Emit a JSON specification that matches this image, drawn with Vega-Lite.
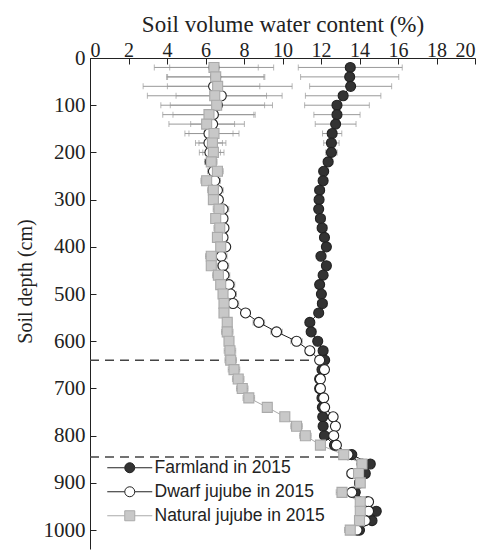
{
  "$schema": "https://vega.github.io/schema/vega-lite/v6.json",
  "width": 385,
  "height": 491,
  "autosize": {"type": "none"},
  "padding": {"left": 90, "top": 58, "right": 15, "bottom": 2},
  "background": "white",
  "datasets": {
    "profiles": [
      {"series": "Farmland in 2015", "depth": 20, "value": 13.52, "sd": 2.7},
      {"series": "Farmland in 2015", "depth": 40, "value": 13.49, "sd": 2.55},
      {"series": "Farmland in 2015", "depth": 60, "value": 13.54, "sd": 2.13},
      {"series": "Farmland in 2015", "depth": 80, "value": 13.15, "sd": 1.96},
      {"series": "Farmland in 2015", "depth": 100, "value": 12.83, "sd": 1.68},
      {"series": "Farmland in 2015", "depth": 120, "value": 12.83, "sd": 1.2},
      {"series": "Farmland in 2015", "depth": 140, "value": 12.76, "sd": 1.06},
      {"series": "Farmland in 2015", "depth": 160, "value": 12.58, "sd": 0.5},
      {"series": "Farmland in 2015", "depth": 180, "value": 12.54, "sd": 0.4},
      {"series": "Farmland in 2015", "depth": 200, "value": 12.54, "sd": 0.3},
      {"series": "Farmland in 2015", "depth": 220, "value": 12.37, "sd": 0.25},
      {"series": "Farmland in 2015", "depth": 240, "value": 12.14, "sd": 0.25},
      {"series": "Farmland in 2015", "depth": 260, "value": 12.11, "sd": 0.2},
      {"series": "Farmland in 2015", "depth": 280, "value": 11.93, "sd": 0.25},
      {"series": "Farmland in 2015", "depth": 300, "value": 11.9, "sd": 0.2},
      {"series": "Farmland in 2015", "depth": 320, "value": 11.88, "sd": 0.2},
      {"series": "Farmland in 2015", "depth": 340, "value": 11.97, "sd": 0.25},
      {"series": "Farmland in 2015", "depth": 360, "value": 12.06, "sd": 0.25},
      {"series": "Farmland in 2015", "depth": 380, "value": 12.18, "sd": 0.2},
      {"series": "Farmland in 2015", "depth": 400, "value": 12.28, "sd": 0.15},
      {"series": "Farmland in 2015", "depth": 420, "value": 12.0, "sd": 0.25},
      {"series": "Farmland in 2015", "depth": 440, "value": 12.28, "sd": 0.2},
      {"series": "Farmland in 2015", "depth": 460, "value": 12.11, "sd": 0.2},
      {"series": "Farmland in 2015", "depth": 480, "value": 11.93, "sd": 0.15},
      {"series": "Farmland in 2015", "depth": 500, "value": 12.02, "sd": 0.2},
      {"series": "Farmland in 2015", "depth": 520, "value": 12.07, "sd": 0.25},
      {"series": "Farmland in 2015", "depth": 540, "value": 11.88, "sd": 0.2},
      {"series": "Farmland in 2015", "depth": 560, "value": 11.42, "sd": 0.15},
      {"series": "Farmland in 2015", "depth": 580, "value": 11.49, "sd": 0.25},
      {"series": "Farmland in 2015", "depth": 600, "value": 11.83, "sd": 0.2},
      {"series": "Farmland in 2015", "depth": 620, "value": 12.11, "sd": 0.2},
      {"series": "Farmland in 2015", "depth": 640, "value": 12.19, "sd": 0.2},
      {"series": "Farmland in 2015", "depth": 660, "value": 12.05, "sd": 0.2},
      {"series": "Farmland in 2015", "depth": 680, "value": 11.93, "sd": 0.2},
      {"series": "Farmland in 2015", "depth": 700, "value": 11.93, "sd": 0.2},
      {"series": "Farmland in 2015", "depth": 720, "value": 12.05, "sd": 0.2},
      {"series": "Farmland in 2015", "depth": 740, "value": 12.07, "sd": 0.2},
      {"series": "Farmland in 2015", "depth": 760, "value": 12.09, "sd": 0.2},
      {"series": "Farmland in 2015", "depth": 780, "value": 12.11, "sd": 0.2},
      {"series": "Farmland in 2015", "depth": 800, "value": 12.18, "sd": 0.2},
      {"series": "Farmland in 2015", "depth": 820, "value": 12.7, "sd": 0.2},
      {"series": "Farmland in 2015", "depth": 840, "value": 13.6, "sd": 0.2},
      {"series": "Farmland in 2015", "depth": 860, "value": 14.56, "sd": 0.2},
      {"series": "Farmland in 2015", "depth": 880, "value": 14.3, "sd": 0.2},
      {"series": "Farmland in 2015", "depth": 900, "value": 14.0, "sd": 0.2},
      {"series": "Farmland in 2015", "depth": 920, "value": 13.78, "sd": 0.2},
      {"series": "Farmland in 2015", "depth": 940, "value": 14.4, "sd": 0.2},
      {"series": "Farmland in 2015", "depth": 960, "value": 14.87, "sd": 0.2},
      {"series": "Farmland in 2015", "depth": 980, "value": 14.65, "sd": 0.2},
      {"series": "Farmland in 2015", "depth": 1000, "value": 14.0, "sd": 0.2},
      {"series": "Dwarf jujube in 2015", "depth": 20, "value": 6.44, "sd": 2.3},
      {"series": "Dwarf jujube in 2015", "depth": 40, "value": 6.53, "sd": 2.5},
      {"series": "Dwarf jujube in 2015", "depth": 60, "value": 6.42, "sd": 2.4},
      {"series": "Dwarf jujube in 2015", "depth": 80, "value": 6.82, "sd": 2.35},
      {"series": "Dwarf jujube in 2015", "depth": 100, "value": 6.62, "sd": 2.45},
      {"series": "Dwarf jujube in 2015", "depth": 120, "value": 6.41, "sd": 2.1},
      {"series": "Dwarf jujube in 2015", "depth": 140, "value": 6.37, "sd": 1.14},
      {"series": "Dwarf jujube in 2015", "depth": 160, "value": 6.18, "sd": 1.25},
      {"series": "Dwarf jujube in 2015", "depth": 180, "value": 6.18, "sd": 0.7},
      {"series": "Dwarf jujube in 2015", "depth": 200, "value": 6.23, "sd": 0.55},
      {"series": "Dwarf jujube in 2015", "depth": 220, "value": 6.25, "sd": 0.3},
      {"series": "Dwarf jujube in 2015", "depth": 240, "value": 6.41, "sd": 0.3},
      {"series": "Dwarf jujube in 2015", "depth": 260, "value": 6.48, "sd": 0.3},
      {"series": "Dwarf jujube in 2015", "depth": 280, "value": 6.62, "sd": 0.3},
      {"series": "Dwarf jujube in 2015", "depth": 300, "value": 6.67, "sd": 0.2},
      {"series": "Dwarf jujube in 2015", "depth": 320, "value": 6.91, "sd": 0.3},
      {"series": "Dwarf jujube in 2015", "depth": 340, "value": 6.91, "sd": 0.2},
      {"series": "Dwarf jujube in 2015", "depth": 360, "value": 6.96, "sd": 0.2},
      {"series": "Dwarf jujube in 2015", "depth": 380, "value": 6.91, "sd": 0.2},
      {"series": "Dwarf jujube in 2015", "depth": 400, "value": 7.05, "sd": 0.2},
      {"series": "Dwarf jujube in 2015", "depth": 420, "value": 6.82, "sd": 0.3},
      {"series": "Dwarf jujube in 2015", "depth": 440, "value": 6.91, "sd": 0.3},
      {"series": "Dwarf jujube in 2015", "depth": 460, "value": 6.96, "sd": 0.3},
      {"series": "Dwarf jujube in 2015", "depth": 480, "value": 7.22, "sd": 0.3},
      {"series": "Dwarf jujube in 2015", "depth": 500, "value": 7.31, "sd": 0.3},
      {"series": "Dwarf jujube in 2015", "depth": 520, "value": 7.43, "sd": 0.3},
      {"series": "Dwarf jujube in 2015", "depth": 540, "value": 8.08, "sd": 0.2},
      {"series": "Dwarf jujube in 2015", "depth": 560, "value": 8.77, "sd": 0.3},
      {"series": "Dwarf jujube in 2015", "depth": 580, "value": 9.69, "sd": 0.3},
      {"series": "Dwarf jujube in 2015", "depth": 600, "value": 10.73, "sd": 0.3},
      {"series": "Dwarf jujube in 2015", "depth": 620, "value": 11.42, "sd": 0.2},
      {"series": "Dwarf jujube in 2015", "depth": 640, "value": 11.93, "sd": 0.2},
      {"series": "Dwarf jujube in 2015", "depth": 660, "value": 12.18, "sd": 0.2},
      {"series": "Dwarf jujube in 2015", "depth": 680, "value": 11.97, "sd": 0.2},
      {"series": "Dwarf jujube in 2015", "depth": 700, "value": 11.97, "sd": 0.2},
      {"series": "Dwarf jujube in 2015", "depth": 720, "value": 12.14, "sd": 0.2},
      {"series": "Dwarf jujube in 2015", "depth": 740, "value": 12.19, "sd": 0.2},
      {"series": "Dwarf jujube in 2015", "depth": 760, "value": 12.63, "sd": 0.2},
      {"series": "Dwarf jujube in 2015", "depth": 780, "value": 12.75, "sd": 0.2},
      {"series": "Dwarf jujube in 2015", "depth": 800, "value": 12.66, "sd": 0.2},
      {"series": "Dwarf jujube in 2015", "depth": 820, "value": 12.8, "sd": 0.2},
      {"series": "Dwarf jujube in 2015", "depth": 840, "value": 13.4, "sd": 0.2},
      {"series": "Dwarf jujube in 2015", "depth": 860, "value": 14.13, "sd": 0.2},
      {"series": "Dwarf jujube in 2015", "depth": 880, "value": 13.6, "sd": 0.25},
      {"series": "Dwarf jujube in 2015", "depth": 900, "value": 14.0, "sd": 0.2},
      {"series": "Dwarf jujube in 2015", "depth": 920, "value": 13.6, "sd": 0.2},
      {"series": "Dwarf jujube in 2015", "depth": 940, "value": 14.47, "sd": 0.2},
      {"series": "Dwarf jujube in 2015", "depth": 960, "value": 14.47, "sd": 0.2},
      {"series": "Dwarf jujube in 2015", "depth": 980, "value": 14.3, "sd": 0.2},
      {"series": "Dwarf jujube in 2015", "depth": 1000, "value": 13.87, "sd": 0.2},
      {"series": "Natural jujube in 2015", "depth": 20, "value": 6.44, "sd": 3.1},
      {"series": "Natural jujube in 2015", "depth": 40, "value": 6.53, "sd": 2.55},
      {"series": "Natural jujube in 2015", "depth": 60, "value": 6.63, "sd": 3.87},
      {"series": "Natural jujube in 2015", "depth": 80, "value": 6.48, "sd": 3.5},
      {"series": "Natural jujube in 2015", "depth": 100, "value": 6.58, "sd": 2.9},
      {"series": "Natural jujube in 2015", "depth": 120, "value": 6.18, "sd": 2.4},
      {"series": "Natural jujube in 2015", "depth": 140, "value": 6.06, "sd": 1.96},
      {"series": "Natural jujube in 2015", "depth": 160, "value": 6.44, "sd": 1.3},
      {"series": "Natural jujube in 2015", "depth": 180, "value": 6.36, "sd": 0.7},
      {"series": "Natural jujube in 2015", "depth": 200, "value": 6.41, "sd": 0.55},
      {"series": "Natural jujube in 2015", "depth": 220, "value": 6.3, "sd": 0.3},
      {"series": "Natural jujube in 2015", "depth": 240, "value": 6.62, "sd": 0.3},
      {"series": "Natural jujube in 2015", "depth": 260, "value": 6.06, "sd": 0.3},
      {"series": "Natural jujube in 2015", "depth": 280, "value": 6.41, "sd": 0.3},
      {"series": "Natural jujube in 2015", "depth": 300, "value": 6.41, "sd": 0.2},
      {"series": "Natural jujube in 2015", "depth": 320, "value": 6.7, "sd": 0.3},
      {"series": "Natural jujube in 2015", "depth": 340, "value": 6.53, "sd": 0.2},
      {"series": "Natural jujube in 2015", "depth": 360, "value": 6.74, "sd": 0.3},
      {"series": "Natural jujube in 2015", "depth": 380, "value": 6.62, "sd": 0.2},
      {"series": "Natural jujube in 2015", "depth": 400, "value": 6.79, "sd": 0.2},
      {"series": "Natural jujube in 2015", "depth": 420, "value": 6.3, "sd": 0.3},
      {"series": "Natural jujube in 2015", "depth": 440, "value": 6.3, "sd": 0.2},
      {"series": "Natural jujube in 2015", "depth": 460, "value": 6.67, "sd": 0.3},
      {"series": "Natural jujube in 2015", "depth": 480, "value": 6.79, "sd": 0.2},
      {"series": "Natural jujube in 2015", "depth": 500, "value": 6.91, "sd": 0.2},
      {"series": "Natural jujube in 2015", "depth": 520, "value": 6.96, "sd": 0.2},
      {"series": "Natural jujube in 2015", "depth": 540, "value": 6.96, "sd": 0.2},
      {"series": "Natural jujube in 2015", "depth": 560, "value": 7.13, "sd": 0.2},
      {"series": "Natural jujube in 2015", "depth": 580, "value": 7.13, "sd": 0.3},
      {"series": "Natural jujube in 2015", "depth": 600, "value": 7.22, "sd": 0.2},
      {"series": "Natural jujube in 2015", "depth": 620, "value": 7.27, "sd": 0.3},
      {"series": "Natural jujube in 2015", "depth": 640, "value": 7.31, "sd": 0.3},
      {"series": "Natural jujube in 2015", "depth": 660, "value": 7.48, "sd": 0.3},
      {"series": "Natural jujube in 2015", "depth": 680, "value": 7.7, "sd": 0.3},
      {"series": "Natural jujube in 2015", "depth": 700, "value": 7.91, "sd": 0.3},
      {"series": "Natural jujube in 2015", "depth": 720, "value": 8.25, "sd": 0.3},
      {"series": "Natural jujube in 2015", "depth": 740, "value": 9.21, "sd": 0.2},
      {"series": "Natural jujube in 2015", "depth": 760, "value": 10.12, "sd": 0.2},
      {"series": "Natural jujube in 2015", "depth": 780, "value": 10.73, "sd": 0.3},
      {"series": "Natural jujube in 2015", "depth": 800, "value": 11.19, "sd": 0.3},
      {"series": "Natural jujube in 2015", "depth": 820, "value": 11.97, "sd": 0.2},
      {"series": "Natural jujube in 2015", "depth": 840, "value": 13.18, "sd": 0.2},
      {"series": "Natural jujube in 2015", "depth": 860, "value": 14.13, "sd": 0.2},
      {"series": "Natural jujube in 2015", "depth": 880, "value": 13.95, "sd": 0.2},
      {"series": "Natural jujube in 2015", "depth": 900, "value": 14.04, "sd": 0.2},
      {"series": "Natural jujube in 2015", "depth": 920, "value": 13.09, "sd": 0.3},
      {"series": "Natural jujube in 2015", "depth": 940, "value": 14.04, "sd": 0.2},
      {"series": "Natural jujube in 2015", "depth": 960, "value": 14.04, "sd": 0.2},
      {"series": "Natural jujube in 2015", "depth": 980, "value": 14.0, "sd": 0.2},
      {"series": "Natural jujube in 2015", "depth": 1000, "value": 13.52, "sd": 0.3}
    ],
    "boundaries": [
      {"depth": 640, "start": 0, "end": 11.9},
      {"depth": 845, "start": 0, "end": 13.0}
    ]
  },
  "config": {
    "font": "Liberation Serif",
    "view": {"stroke": null},
    "axis": {
      "grid": false,
      "domainColor": "#222",
      "tickColor": "#222",
      "labelColor": "#222",
      "titleColor": "#222",
      "titleFontWeight": "normal"
    }
  },
  "layer": [
    {
      "data": {"values": []},
      "mark": {"type": "point", "filled": false, "size": 100, "opacity": 1},
      "encoding": {
        "fill": {
          "field": "series", "type": "nominal",
          "scale": {"domain": ["Farmland in 2015", "Dwarf jujube in 2015", "Natural jujube in 2015"], "range": ["#333333", "#ffffff", "#c8c8c8"]},
          "legend": {
            "title": null,
            "orient": "none",
            "legendX": 31,
            "legendY": 401,
            "padding": 0,
            "labelFont": "Liberation Sans",
            "labelFontSize": 17.5,
            "labelColor": "#222",
            "labelLimit": 400,
            "labelOffset": 16,
            "rowPadding": 5,
            "symbolSize": 100,
            "symbolOpacity": 1,
            "symbolStrokeWidth": 1
          }
        },
        "stroke": {
          "field": "series", "type": "nominal",
          "scale": {"domain": ["Farmland in 2015", "Dwarf jujube in 2015", "Natural jujube in 2015"], "range": ["#222222", "#222222", "#aaaaaa"]}
        },
        "shape": {
          "field": "series", "type": "nominal",
          "scale": {"domain": ["Farmland in 2015", "Dwarf jujube in 2015", "Natural jujube in 2015"], "range": ["M-4.5,0L-1,0M1,0L4.5,0M-1,0A1,1,0,1,0,1,0A1,1,0,1,0,-1,0Z", "M-4.5,0L-1,0M1,0L4.5,0M-1,0A1,1,0,1,0,1,0A1,1,0,1,0,-1,0Z", "M-4.5,0L-1,0M1,0L4.5,0M-1,-1L1,-1L1,1L-1,1Z"]}
        }
      }
    },
    {
      "data": {"name": "boundaries"},
      "mark": {"type": "rule", "color": "#444", "strokeWidth": 1.5, "strokeDash": [9, 6]},
      "encoding": {
        "y": {
          "field": "depth", "type": "quantitative",
          "scale": {"domain": [0, 1040], "reverse": true, "nice": false},
          "axis": {"values": [0, 100, 200, 300, 400, 500, 600, 700, 800, 900, 1000], "format": "d", "title": "Soil depth (cm)", "labelFont": "Liberation Serif", "titleFont": "Liberation Serif", "labelFontSize": 21, "titleFontSize": 20, "labelOverlap": false, "tickSize": -6, "labelPadding": 11, "titlePadding": 8, "titleY": 223}
        },
        "x": {
          "field": "start", "type": "quantitative",
          "scale": {"domain": [0, 20], "nice": false},
          "axis": {"orient": "top", "values": [0, 2, 4, 6, 8, 10, 12, 14, 16, 18, 20], "title": "Soil volume water content (%)", "labelFont": "Liberation Serif", "titleFont": "Liberation Serif", "labelFontSize": 20, "titleFontSize": 23, "labelOverlap": false, "labelBound": false, "tickSize": -6, "labelPadding": 4, "titlePadding": 4}
        },
        "x2": {"field": "end"}
      }
    },
    {
      "data": {"name": "profiles"},
      "mark": {"type": "errorbar", "color": "#999", "ticks": {"size": 6, "color": "#999"}, "rule": {"strokeWidth": 1}},
      "encoding": {
        "y": {
          "field": "depth", "type": "quantitative",
          "scale": {"domain": [0, 1040], "reverse": true, "nice": false},
          "axis": {"values": [0, 100, 200, 300, 400, 500, 600, 700, 800, 900, 1000], "format": "d", "title": "Soil depth (cm)", "labelFont": "Liberation Serif", "titleFont": "Liberation Serif", "labelFontSize": 21, "titleFontSize": 20, "labelOverlap": false, "tickSize": -6, "labelPadding": 11, "titlePadding": 8, "titleY": 223}
        },
        "x": {
          "field": "value", "type": "quantitative",
          "scale": {"domain": [0, 20], "nice": false},
          "axis": {"orient": "top", "values": [0, 2, 4, 6, 8, 10, 12, 14, 16, 18, 20], "title": "Soil volume water content (%)", "labelFont": "Liberation Serif", "titleFont": "Liberation Serif", "labelFontSize": 20, "titleFontSize": 23, "labelOverlap": false, "labelBound": false, "tickSize": -6, "labelPadding": 4, "titlePadding": 4}
        },
        "xError": {"field": "sd"},
        "detail": {"field": "series"}
      }
    },
    {
      "data": {"name": "profiles"},
      "mark": {"type": "line", "strokeWidth": 1},
      "encoding": {
        "y": {
          "field": "depth", "type": "quantitative",
          "scale": {"domain": [0, 1040], "reverse": true, "nice": false},
          "axis": {"values": [0, 100, 200, 300, 400, 500, 600, 700, 800, 900, 1000], "format": "d", "title": "Soil depth (cm)", "labelFont": "Liberation Serif", "titleFont": "Liberation Serif", "labelFontSize": 21, "titleFontSize": 20, "labelOverlap": false, "tickSize": -6, "labelPadding": 11, "titlePadding": 8, "titleY": 223}
        },
        "x": {
          "field": "value", "type": "quantitative",
          "scale": {"domain": [0, 20], "nice": false},
          "axis": {"orient": "top", "values": [0, 2, 4, 6, 8, 10, 12, 14, 16, 18, 20], "title": "Soil volume water content (%)", "labelFont": "Liberation Serif", "titleFont": "Liberation Serif", "labelFontSize": 20, "titleFontSize": 23, "labelOverlap": false, "labelBound": false, "tickSize": -6, "labelPadding": 4, "titlePadding": 4}
        },
        "order": {"field": "depth", "type": "quantitative"},
        "stroke": {"field": "series", "type": "nominal", "legend": null}
      }
    },
    {
      "data": {"name": "profiles"},
      "transform": [{"filter": "datum.series !== 'Natural jujube in 2015'"}],
      "mark": {"type": "point", "shape": "circle", "filled": false, "strokeWidth": 1.1, "opacity": 1, "size": 100},
      "encoding": {
        "y": {
          "field": "depth", "type": "quantitative",
          "scale": {"domain": [0, 1040], "reverse": true, "nice": false},
          "axis": {"values": [0, 100, 200, 300, 400, 500, 600, 700, 800, 900, 1000], "format": "d", "title": "Soil depth (cm)", "labelFont": "Liberation Serif", "titleFont": "Liberation Serif", "labelFontSize": 21, "titleFontSize": 20, "labelOverlap": false, "tickSize": -6, "labelPadding": 11, "titlePadding": 8, "titleY": 223}
        },
        "x": {
          "field": "value", "type": "quantitative",
          "scale": {"domain": [0, 20], "nice": false},
          "axis": {"orient": "top", "values": [0, 2, 4, 6, 8, 10, 12, 14, 16, 18, 20], "title": "Soil volume water content (%)", "labelFont": "Liberation Serif", "titleFont": "Liberation Serif", "labelFontSize": 20, "titleFontSize": 23, "labelOverlap": false, "labelBound": false, "tickSize": -6, "labelPadding": 4, "titlePadding": 4}
        },
        "fill": {"field": "series", "type": "nominal", "legend": null},
        "stroke": {"field": "series", "type": "nominal", "legend": null}
      }
    },
    {
      "data": {"name": "profiles"},
      "transform": [{"filter": "datum.series === 'Natural jujube in 2015'"}],
      "mark": {"type": "point", "shape": "square", "filled": false, "strokeWidth": 1.1, "opacity": 1, "size": 100},
      "encoding": {
        "y": {
          "field": "depth", "type": "quantitative",
          "scale": {"domain": [0, 1040], "reverse": true, "nice": false},
          "axis": {"values": [0, 100, 200, 300, 400, 500, 600, 700, 800, 900, 1000], "format": "d", "title": "Soil depth (cm)", "labelFont": "Liberation Serif", "titleFont": "Liberation Serif", "labelFontSize": 21, "titleFontSize": 20, "labelOverlap": false, "tickSize": -6, "labelPadding": 11, "titlePadding": 8, "titleY": 223}
        },
        "x": {
          "field": "value", "type": "quantitative",
          "scale": {"domain": [0, 20], "nice": false},
          "axis": {"orient": "top", "values": [0, 2, 4, 6, 8, 10, 12, 14, 16, 18, 20], "title": "Soil volume water content (%)", "labelFont": "Liberation Serif", "titleFont": "Liberation Serif", "labelFontSize": 20, "titleFontSize": 23, "labelOverlap": false, "labelBound": false, "tickSize": -6, "labelPadding": 4, "titlePadding": 4}
        },
        "fill": {"field": "series", "type": "nominal", "legend": null},
        "stroke": {"field": "series", "type": "nominal", "legend": null}
      }
    }
  ]
}
